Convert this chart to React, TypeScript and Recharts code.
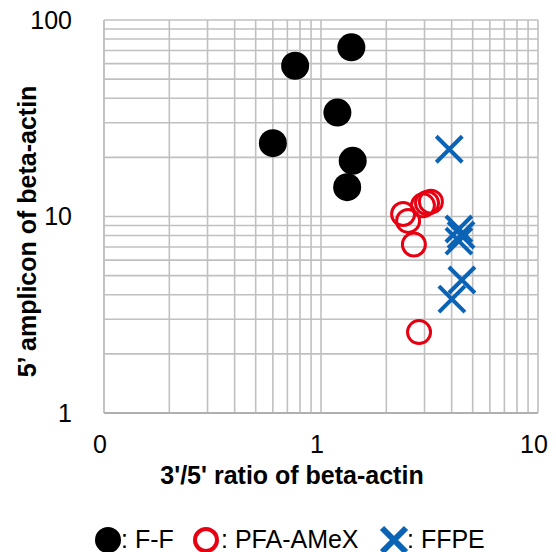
import React from 'react';
import { ScatterChart, Scatter, XAxis, YAxis, CartesianGrid } from 'recharts';

// values
const ffX = [1.38, 0.76, 1.19, 0.6, 1.4, 1.32];
const ffY = [72.6, 58.5, 33.8, 23.6, 19.2, 14.1];
const pfaX = [2.39, 2.52, 2.68, 2.95, 3.08, 3.21, 2.83];
const pfaY = [10.3, 9.5, 7.2, 11.4, 11.7, 11.9, 2.58];
const ffpeX = [3.9, 4.32, 4.42, 4.32, 4.46, 4.01];
const ffpeY = [22.0, 8.64, 8.05, 7.5, 4.75, 3.8];

const xTicks = [0.1, 0.2, 0.3, 0.4, 0.5, 0.6, 0.7, 0.8, 0.9, 1, 2, 3, 4, 5, 6, 7, 8, 9, 10];
const yTicks = [1, 2, 3, 4, 5, 6, 7, 8, 9, 10, 20, 30, 40, 50, 60, 70, 80, 90, 100];
const xLabels: { [key: number]: string } = { 0.1: '0', 1: '1', 10: '10' };
const yLabels: { [key: number]: string } = { 1: '1', 10: '10', 100: '100' };

const RED = '#e60012';
const BLUE = '#0b63b5';
const FONT = '"Liberation Sans", Arial, sans-serif';

const toPoints = (xs: number[], ys: number[]) => xs.map((x, i) => ({ x, y: ys[i] }));

const Dot = (props: any) => <circle cx={props.cx} cy={props.cy} r={14} fill="#000" />;
const Ring = (props: any) => (
  <circle cx={props.cx} cy={props.cy} r={11.5} fill="none" stroke={RED} strokeWidth={3} />
);
const Cross = (props: any) => {
  const { cx, cy } = props;
  const d = 13;
  return (
    <path
      d={`M${cx - d},${cy - d}L${cx + d},${cy + d}M${cx - d},${cy + d}L${cx + d},${cy - d}`}
      stroke={BLUE}
      strokeWidth={4}
      fill="none"
    />
  );
};

const renderXLabel = (props: any) => {
  const vb = props.viewBox;
  return (
    <text
      x={vb.x + vb.width / 2 - 29}
      y={vb.y + 71}
      textAnchor="middle"
      fontFamily={FONT}
      fontWeight="bold"
      fontSize={25}
      fill="#000"
    >
      3'/5' ratio of beta-actin
    </text>
  );
};

const renderYLabel = (props: any) => {
  const vb = props.viewBox;
  const x = vb.x + 27;
  const y = vb.y + vb.height / 2 + 15;
  return (
    <text
      x={x}
      y={y}
      transform={`rotate(-90, ${x}, ${y})`}
      textAnchor="middle"
      dominantBaseline="central"
      fontFamily={FONT}
      fontWeight="bold"
      fontSize={25}
      fill="#000"
    >
      5’ amplicon of beta-actin
    </text>
  );
};

const legendText: React.CSSProperties = {
  position: 'absolute',
  top: 527,
  height: 24,
  fontFamily: FONT,
  fontSize: 25,
  lineHeight: '24px',
  color: '#000',
  whiteSpace: 'nowrap',
};

const App = () => {
  return (
    <div style={{ position: 'absolute', left: 0, top: 0, width: 556, height: 552, background: '#fff', overflow: 'hidden' }}>
      <ScatterChart width={556} height={552} margin={{ top: 20, right: 18, bottom: 59, left: 0 }}>
        <CartesianGrid stroke="#c0c0c0" strokeWidth={1.6} />
        <XAxis
          type="number"
          dataKey="x"
          scale="log"
          domain={[0.1, 10]}
          ticks={xTicks}
          interval={0}
          tickFormatter={(v: number) => xLabels[v] ?? ''}
          tick={{ fontSize: 25, fill: '#000', fontFamily: FONT, dx: -4 }}
          tickLine={false}
          tickSize={0}
          tickMargin={22}
          axisLine={{ stroke: '#b0b0b0', strokeWidth: 2 }}
          height={80}
          allowDataOverflow
          label={renderXLabel}
        />
        <YAxis
          type="number"
          dataKey="y"
          scale="log"
          domain={[1, 100]}
          ticks={yTicks}
          interval={0}
          tickFormatter={(v: number) => yLabels[v] ?? ''}
          tick={{ fontSize: 25, fill: '#000', fontFamily: FONT }}
          tickLine={false}
          tickSize={0}
          tickMargin={32}
          axisLine={{ stroke: '#c0c0c0', strokeWidth: 1.6 }}
          width={104}
          allowDataOverflow
          label={renderYLabel}
        />
        <Scatter data={toPoints(ffX, ffY)} shape={Dot} isAnimationActive={false} />
        <Scatter data={toPoints(pfaX, pfaY)} shape={Ring} isAnimationActive={false} />
        <Scatter data={toPoints(ffpeX, ffpeY)} shape={Cross} isAnimationActive={false} />
      </ScatterChart>

      {/* legend */}
      <svg style={{ position: 'absolute', left: 0, top: 520 }} width={556} height={40}>
        <circle cx={108} cy={20} r={13} fill="#000" />
        <circle cx={206} cy={20} r={11} fill="none" stroke={RED} strokeWidth={4} />
        <path d="M382,8L406,32M382,32L406,8" stroke={BLUE} strokeWidth={6} fill="none" />
      </svg>
      <span style={{ ...legendText, left: 121 }}>: F-F</span>
      <span style={{ ...legendText, left: 221 }}>: PFA-AMeX</span>
      <span style={{ ...legendText, left: 407 }}>: FFPE</span>
    </div>
  );
};

export default App;
